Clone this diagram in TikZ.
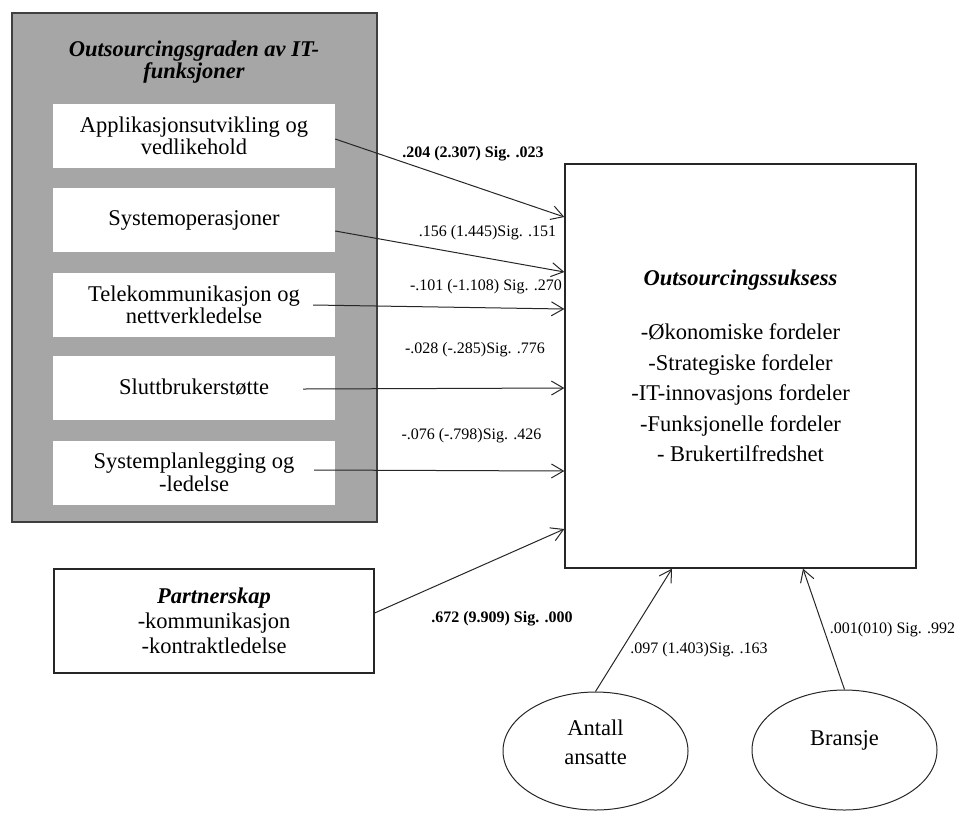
\documentclass[tikz,border=0pt]{standalone}
\usepackage{fontspec}
\setmainfont{Liberation Serif}
\usetikzlibrary{shapes.geometric, arrows.meta}
\definecolor{panelgray}{HTML}{A6A6A6}
\definecolor{panelborder}{HTML}{3F3F3F}
\newcommand{\diagfont}{\fontsize{22.5}{22.5}\selectfont}
\newcommand{\coeffont}{\fontsize{16}{16}\selectfont}

\begin{document}
\begin{tikzpicture}[
		x=1pt, y=-1pt,
		>={Straight Barb[length=12pt, width=14pt]},
		panel/.style={draw=panelborder, line width=1.3pt, fill=panelgray, inner sep=0pt},
		itbox/.style={fill=white, inner sep=0pt, minimum width=282pt, minimum height=64pt,
			align=center, font=\diagfont},
		mainbox/.style={draw=black!85, line width=1.3pt, fill=white, inner sep=0pt, align=center},
		control/.style={ellipse, draw=black!85, line width=1pt, inner sep=0pt,
			minimum width=185pt},
		ctrltext/.style={align=center, font=\fontsize{22.5}{29}\selectfont},
		coef/.style={font=\coeffont, inner sep=0pt},
		conn/.style={->, line width=1pt, black!85}
		]
		
		\useasboundingbox (0,0) rectangle (957,812);
		
		% ==========================================
		% LEFT PANEL: IT functions
		% ==========================================
		
		\node[panel, minimum width=365pt, minimum height=509pt] (panel) at (194.5,267.5) {};
		\node[align=center, font=\diagfont\bfseries\itshape] (title) at (194,62)
		{Outsourcingsgraden av IT-\\funksjoner};
		
		\node[itbox] (appl) at (194,136) {Applikasjonsutvikling og\\vedlikehold};
		\node[itbox] (sysop) at (194,220) {Systemoperasjoner};
		\node[itbox] (telekom) at (194,305) {Telekommunikasjon og\\nettverkledelse};
		\node[itbox] (slutt) at (194,387.5) {Sluttbrukerstøtte};
		\node[itbox] (planl) at (194,472.5) {Systemplanlegging og\\-ledelse};
		
		% ==========================================
		% OUTCOME, PARTNERSHIP AND CONTROLS
		% ==========================================
		
		\node[mainbox, minimum width=351pt, minimum height=404pt,
		font=\fontsize{22.5}{30.5}\selectfont] (suksess) at (740.5,366)
		{\textbf{\textit{Outsourcingssuksess}}\\[23.5pt]
			-Økonomiske fordeler\\
			-Strategiske fordeler\\
			-IT-innovasjons fordeler\\
			-Funksjonelle fordeler\\
			- Brukertilfredshet};
		
		\node[mainbox, minimum width=320pt, minimum height=104pt,
		font=\fontsize{22.5}{25}\selectfont] (partner) at (214,621)
		{\textbf{\textit{Partnerskap}}\\-kommunikasjon\\-kontraktledelse};
		
		% Control variables (text sits a little above the centre)
		\node[control, minimum height=118pt,
		label={[ctrltext, yshift=8.5pt]center:Antall\\ansatte}] (antall) at (595.5,751) {};
		\node[control, minimum height=120pt,
		label={[ctrltext, yshift=10pt]center:Bransje}] (bransje) at (844.5,750) {};
		
		% Paths into the outcome box
		\draw[conn] ([yshift=-3pt]appl.east) -- ([yshift=149pt]suksess.west);
		\draw[conn] ([yshift=-11pt]sysop.east) -- ([yshift=94pt]suksess.west);
		\draw[conn] ([xshift=-22pt]telekom.east) -- ([yshift=57pt]suksess.west);
		\draw[conn] ([xshift=-32pt, yshift=-1.5pt]slutt.east) -- ([yshift=-22pt]suksess.west);
		\draw[conn] ([xshift=-21pt, yshift=2.5pt]planl.east) -- ([yshift=-105pt]suksess.west);
		\draw[conn] ([yshift=8pt]partner.east) -- ([yshift=-163pt]suksess.west);
		\draw[conn] (antall.north) -- ([xshift=-68.5pt]suksess.south);
		\draw[conn] (bransje.north) -- ([xshift=62.5pt]suksess.south);
		
		% Coefficients (t value, significance)
		\node[coef, font=\coeffont\bfseries] (lapp) at (473,154) {.204 (2.307) Sig. .023};
		\node[coef] (lsys) at (487.5,233) {.156 (1.445)Sig. .151};
		\node[coef] (ltel) at (486,287) {-.101 (-1.108) Sig. .270};
		\node[coef] (lslutt) at (475,350) {-.028 (-.285)Sig. .776};
		\node[coef] (lplan) at (471.5,436) {-.076 (-.798)Sig. .426};
		\node[coef, font=\coeffont\bfseries] (lpart) at (502,619) {.672 (9.909) Sig. .000};
		\node[coef] (lant) at (699,650) {.097 (1.403)Sig. .163};
		\node[coef] (lbra) at (892.5,630) {.001(010) Sig. .992};
		
	\end{tikzpicture}
\end{document}
